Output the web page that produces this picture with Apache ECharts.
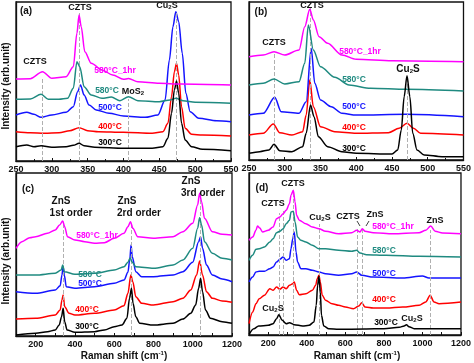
<!DOCTYPE html>
<html><head><meta charset="utf-8">
<script src="https://cdn.jsdelivr.net/npm/echarts@6/dist/echarts.min.js"></script>
<style>html,body{margin:0;padding:0;background:#fff}#c{width:474px;height:363px}</style>
</head><body><div id="c"></div>
<script>
// ---------- DATA (Raman shift cm-1, intensity arb. units) ----------
const seriesNames = ['300°C','400°C','500°C','580°C','580°C_1hr'];
// Panel (a)
const a300 = [[250,14.3],[265,16],[275,14.3],[285,15.3],[300,13.7],[320,14.3],[330,15.7],[338,17.7],[345,15.3],[360,13.7],[400,12.7],[440,12.7],[455,14.3],[462,22.7],[467,47.7],[471,71],[474,80],[477,67.7],[481,37.7],[486,21],[495,14.3],[510,11.7],[550,10.3]];
const a400 = [[250,29.3],[270,28.3],[290,27.7],[310,28.3],[325,30.3],[338,33.3],[350,30.3],[365,29.3],[400,28.7],[440,27.7],[455,29.3],[462,37.7],[467,64.3],[471,89.3],[474,97.7],[477,86],[481,54.3],[486,32.7],[495,26.7],[510,26],[550,25]];
const a500 = [[250,46],[265,48.7],[275,46.7],[285,43.7],[300,46],[320,48.7],[330,54.3],[336,69.3],[340,76],[345,66],[352,56],[362,51],[380,47.7],[400,45],[430,43.7],[448,46],[458,61],[464,101],[469,134.3],[473,149.3],[477,139.3],[482,107.7],[487,67.7],[493,49.3],[505,42.7],[530,40.3],[550,39.3]];
const a580 = [[250,61.7],[270,62],[285,66.7],[295,61.7],[310,61.7],[322,62.7],[330,72.7],[335,99.3],[339,94.3],[345,74.3],[355,66],[370,62.7],[383,64],[395,60.3],[407,64.3],[420,60.3],[450,59.3],[465,61],[473,62.7],[483,60.3],[500,58.7],[550,57.7]];
const a580h = [[250,82],[270,82.3],[287,89.3],[300,82.7],[320,84.3],[330,94.3],[335,127.7],[338,146],[341,134.3],[346,109.3],[355,97.7],[370,91],[385,86],[400,81.7],[407,82.5],[420,79.3],[450,77.7],[480,77],[550,76]];
// Panel (b)
const b300 = [[250,6.7],[265,8.3],[278,10],[285,15.7],[293,9.3],[310,8.3],[325,13.3],[330,26.7],[336,55],[341,43.3],[347,23.3],[360,13.3],[380,8.3],[400,6.7],[450,6],[458,10],[463,30],[467,63.3],[471,84.3],[475,63.3],[479,26.7],[485,10],[495,5],[520,3.3],[550,3.3]];
const b400 = [[250,25],[270,26.7],[284,36],[293,27.3],[310,25],[325,28.3],[330,45],[335,80],[340,53.3],[350,33.3],[370,28.3],[400,26.7],[445,27.3],[460,31.7],[471,36.7],[480,31.7],[490,26.7],[550,25]];
const b500 = [[250,45],[270,46.7],[286,62.7],[295,48.3],[320,46.7],[330,58.3],[337,111.7],[342,76.7],[350,60],[365,53.3],[380,46.7],[400,45],[470,45.7],[550,43.3]];
const b580 = [[250,75],[270,76.7],[285,81],[300,76],[320,78.3],[328,96.7],[333,135],[340,110],[350,93.3],[370,82.7],[390,75],[420,71.7],[470,70.7],[550,69]];
const b580h = [[250,103.3],[270,105],[285,108.3],[300,105],[320,110],[328,133.3],[335,150.7],[340,140],[348,123.3],[360,116.7],[380,105],[400,100.7],[450,99.3],[550,98.3]];
// Panel (c)
const c300 = [[100,1],[200,2.7],[260,4.3],[300,6],[320,11],[332,19.3],[340,27.7],[348,14.3],[360,6],[400,3.7],[500,4.3],[550,6],[600,9.3],[640,11],[665,17.7],[678,37.7],[688,47.7],[696,32.7],[710,19.3],[730,12.7],[800,11],[900,12.7],[950,17],[990,22.7],[1015,31],[1030,47.7],[1040,57.7],[1050,44.3],[1065,26],[1090,17.7],[1150,14.3],[1200,12.7]];
const c400 = [[100,17],[200,17.7],[300,21],[325,26],[334,36],[340,41],[348,29.3],[370,22.7],[400,21],[500,22.7],[600,26],[650,30.3],[670,42.7],[685,61],[695,54.3],[710,39.3],[740,32.7],[800,31],[900,34.3],[950,37.7],[990,46],[1020,61],[1035,75],[1050,61],[1070,44.3],[1100,37.7],[1150,35],[1200,33.7]];
const c500 = [[100,44.3],[200,42.7],[300,46],[325,50.3],[334,61],[340,69.3],[346,61],[356,49.3],[400,47.7],[500,49.3],[600,52.7],[650,56],[670,63.7],[680,77.7],[686,91],[692,79.3],[710,64.3],[740,59.3],[800,59.3],[900,61],[950,64.3],[1000,73.7],[1030,94.3],[1040,99.3],[1050,87.7],[1070,71],[1100,61],[1150,57],[1200,54.3]];
const c580 = [[100,61],[200,61],[300,62.7],[330,66],[338,71],[346,64.3],[400,61.7],[500,62.7],[600,66],[650,69.3],[670,73.7],[682,78.3],[690,74.3],[710,69.3],[800,67.7],[900,71],[950,76],[1000,87.7],[1025,107.7],[1035,118.3],[1045,111],[1060,94.3],[1100,82.7],[1150,77.7],[1200,76]];
const c580h = [[100,87.7],[130,94.3],[170,98.3],[200,99.3],[260,102.7],[300,106],[322,111],[338,115],[348,109.3],[362,99.3],[400,96],[450,94.3],[500,92.7],[550,93.3],[600,97.7],[650,102.7],[670,109.3],[683,114.3],[695,107.7],[720,99.3],[800,97.7],[900,99.3],[950,104.3],[1000,112.7],[1025,131],[1035,142.7],[1045,134.3],[1060,117.7],[1100,104.3],[1150,101.7],[1200,101]];
// Panel (d)
const d300 = [[100,0.5],[125,6.3],[150,9],[200,9.7],[225,11.3],[243,16.3],[255,20.3],[272,14.7],[293,11.3],[310,12.3],[335,10.3],[378,9],[412,9.7],[437,13],[449,29.7],[456,49.7],[463,58.7],[470,43],[476,19.7],[488,9],[514,6.3],[565,5.7],[700,6],[800,6.3],[880,7.7],[905,9],[917,10.3],[930,8.3],[957,6.3],[1200,6.3]];
const d400 = [[100,11.3],[119,23],[136,31.3],[153,36.3],[180,39.7],[208,46.3],[225,44.7],[243,48],[260,45.7],[277,48],[293,46.3],[310,49.7],[327,51.3],[335,53],[347,44.7],[361,40.3],[395,41.3],[429,44.7],[446,49.7],[454,56.3],[463,59.7],[470,53],[480,39.7],[497,34.7],[531,31.3],[565,29.7],[600,28],[642,26.3],[670,29],[685,32.3],[702,28],[745,27],[813,27],[898,28],[983,29.7],[1017,33],[1040,39.7],[1060,33],[1086,31.3],[1200,33]];
const d500 = [[100,53],[119,58],[136,63],[153,63.7],[180,63.7],[208,66.3],[225,68],[243,73],[260,75.7],[277,78],[293,74.7],[310,76.3],[318,86.3],[327,96.3],[335,103],[344,83],[352,73],[369,66.3],[395,66.3],[429,64.7],[463,63],[497,61.3],[565,59.7],[633,61.3],[659,63],[685,59.7],[745,58],[898,57],[1000,59],[1034,57],[1200,57]];
const d580 = [[100,74.7],[119,79.7],[136,85.7],[153,86.3],[180,88],[208,93],[225,96.3],[243,102.3],[260,103.7],[277,106.3],[293,111.3],[310,114.7],[318,123],[330,123.7],[339,113],[352,98],[369,94.7],[395,93],[429,89.7],[463,86.3],[497,86.3],[565,84.7],[633,83.7],[659,84.7],[676,82],[710,80.3],[813,79.7],[983,78.7],[1200,78]];
const d580h = [[100,94.7],[119,98],[136,104.7],[144,109],[156,107],[170,103],[200,104.7],[225,108],[243,116.3],[260,118],[277,121.3],[293,124.7],[310,131.3],[318,139.7],[330,144.7],[339,133],[347,119.7],[361,114.7],[395,111.3],[429,108],[463,106.3],[497,103.7],[565,101.3],[633,102.3],[659,104.7],[676,103],[688,106.3],[702,103.7],[745,102.3],[847,101.3],[983,102.3],[1017,104.7],[1043,109],[1066,103.7],[1104,102],[1200,101.3]];
// Peak guide lines: [position, top of dashed line]
const aPeaks = [[287,82],[338,150],[407,62],[474,150]];
const bPeaks = [[285,106],[336,152],[471,82]];
const cPeaks = [[340,112],[688,112],[1038,140]];
const dPeaks = [[255,122],[280,125],[330,143],[463,111],[662,108],[690,108],[1040,105]];
// Axis ranges and ticks
const xRanges = [[250,550,50],[250,550,50],[100,1200,100],[100,1200,100]];
const yMaxes = [159,158,163,162];

// ---------- CHART ----------
const colors = ['#000000','#ff0000','#1414ff','#1f8a80','#ff00ff'];
const FONT = 'Liberation Sans, Arial, sans-serif';
const panels = [
  [a300,a400,a500,a580,a580h],
  [b300,b400,b500,b580,b580h],
  [c300,c400,c500,c580,c580h],
  [d300,d400,d500,d580,d580h]
];
const peaks = [aPeaks,bPeaks,cPeaks,dPeaks];
const grids = [
  {left:16, top:2, width:215, height:159},
  {left:249, top:2, width:215, height:158},
  {left:16, top:173, width:216, height:163},
  {left:249, top:173, width:215, height:162}
];
grids.forEach(g=>{g.show=true;g.borderColor='#111';g.borderWidth=1.3;g.backgroundColor='transparent';});

const xAxes = xRanges.map((r,i)=>({
  type:'value', gridIndex:i, min:r[0], max:r[1], interval:r[2],
  axisLine:{show:true,lineStyle:{color:'#111',width:1.3}},
  axisTick:{show:true,inside:true,length:3,lineStyle:{color:'#111'}},
  minorTick:{show:i<2,splitNumber:2,length:2,lineStyle:{color:'#111'}},
  splitLine:{show:false},
  axisLabel:{color:'#111',fontSize:9,fontWeight:'bold',fontFamily:FONT,margin:4,showMinLabel:true,showMaxLabel:true,
    formatter:(v)=> (i<2 ? String(v) : (v%200===0 ? String(v) : ''))}
}));
const yAxes = yMaxes.map((m,i)=>({
  type:'value', gridIndex:i, min:0, max:m,
  axisLine:{show:true,lineStyle:{color:'#111',width:1.3}},
  axisTick:{show:false}, axisLabel:{show:false}, splitLine:{show:false}
}));

const series = [];
panels.forEach((p,gi)=>{
  p.forEach((data,si)=>{
    const s = {
      type:'line', name:seriesNames[si], xAxisIndex:gi, yAxisIndex:gi, data:data,
      symbol:'none', smooth:0.3, smoothMonotone:'x',
      lineStyle:{color:colors[si], width:1.5}, z: si===0 ? 6 : 2+si
    };
    if(si===0){
      s.markLine = {silent:true, symbol:['none','none'], animation:false,
        label:{show:false},
        lineStyle:{type:'dashed', color:'#b0b0b0', width:1},
        data: peaks[gi].map(pk=>[{coord:[pk[0],0]},{coord:[pk[0],pk[1]]}])};
    }
    series.push(s);
  });
});

function txt(t,x,y,color,size){
  const c = color||'#111';
  return {type:'text', z:100, style:{text:t,x:x,y:y,align:'center',verticalAlign:'middle',
    fill:c, font:'bold '+(size||9)+'px '+FONT,
    rich:{s:{fontSize:6,fontWeight:'bold',fontFamily:FONT,verticalAlign:'bottom',lineHeight:8,fill:c,padding:[5,0,0,0]},
          u:{fontSize:6,fontWeight:'bold',fontFamily:FONT,fill:c,padding:[0,0,5,0]}}}};
}
const C = colors;
const graphic = [
  // panel tags
  txt('(a)',26,11,'#111',10), txt('(b)',261,12,'#111',10), txt('(c)',28,189,'#111',10), txt('(d)',262,188,'#111',10),
  // y titles
  {type:'text', z:100, rotation:Math.PI/2, x:6, y:86, style:{text:'Intensity (arb.unit)',align:'center',verticalAlign:'middle',fill:'#111',font:'bold 10px '+FONT}},
  {type:'text', z:100, rotation:Math.PI/2, x:6, y:261, style:{text:'Intensity (arb.unit)',align:'center',verticalAlign:'middle',fill:'#111',font:'bold 10px '+FONT}},
  // x titles
  txt('Raman shift (cm{u|-1})',124,356,'#111',10), txt('Raman shift (cm{u|-1})',357,356,'#111',10),
  // (a) annotations
  txt('CZTS',35,62), txt('CZTS',80,8), txt('Cu{s|2}S',167,6), txt('MoS{s|2}',133,92),
  txt('580°C_1hr',115,71,C[4],8.5), txt('580°C',107,91,C[3],8.5), txt('500°C',110,108,C[2],8.5), txt('400°C',110,127,C[1],8.5), txt('300°C',110,143,C[0],8.5),
  // (b) annotations
  txt('CZTS',274,43), txt('CZTS',312,6), txt('Cu{s|2}S',408,69,'#111',10),
  txt('580°C_1hr',360,52,C[4],8.5), txt('580°C',354,80,C[3],8.5), txt('500°C',354,107,C[2],8.5), txt('400°C',354,128,C[1],8.5), txt('300°C',354,149,C[0],8.5),
  // (c) annotations
  txt('ZnS',61,201,'#111',10), txt('1st order',71,213,'#111',10), txt('ZnS',127,201,'#111',10), txt('2rd order',139,213,'#111',10), txt('ZnS',191,181,'#111',10), txt('3rd order',203,193,'#111',10),
  txt('580°C_1hr',97,236,C[4],8.5), txt('580°C',90,275,C[3],8.5), txt('500°C',90,284,C[2],8.5), txt('400°C',87,310,C[1],8.5), txt('300°C',87,327,C[0],8.5),
  // (d) annotations
  txt('CZTS',293,184), txt('CZTS',273,204), txt('Cu{s|2}S',320,218), txt('CZTS',348,217), txt('ZnS',375,215), txt('ZnS',435,221),
  txt('Cu{s|2}S',273,309), txt('Cu{s|2}S',412,319),
  txt('580°C_1hr',393,227,C[4],8.5), txt('580°C',384,251,C[3],8.5), txt('500°C',384,274,C[2],8.5), txt('400°C',384,300,C[1],8.5), txt('300°C',386,323,C[0],8.5),
  {type:'line', z:100, shape:{x1:357,y1:221,x2:360,y2:226}, style:{stroke:'#111',lineWidth:0.8}},
  {type:'line', z:100, shape:{x1:369,y1:221,x2:366,y2:226}, style:{stroke:'#111',lineWidth:0.8}}
];

const chart = echarts.init(document.getElementById('c'), null, {renderer:'canvas'});
chart.setOption({animation:false, backgroundColor:'#fff', grid:grids, xAxis:xAxes, yAxis:yAxes, series:series, graphic:graphic});
</script></body></html>
